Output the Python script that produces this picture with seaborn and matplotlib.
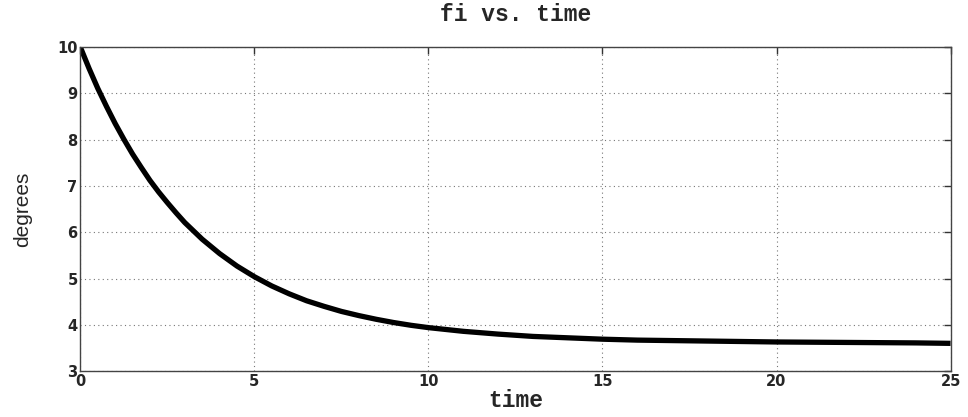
import numpy as np
import pandas as pd
import seaborn as sns
import matplotlib
matplotlib.use("Agg")
import matplotlib.pyplot as plt

# values
time = [0, 0.25, 0.5, 0.75, 1, 1.25, 1.5, 1.75, 2, 2.25, 2.5, 2.75, 3, 3.5,
        4, 4.5, 5, 5.5, 6, 6.5, 7, 7.5, 8, 8.5, 9, 9.5, 10,
        11, 12, 13, 14, 15, 16, 17, 18, 19, 20, 22, 24, 25]
fi = [10.00, 9.54, 9.11, 8.72, 8.35, 8.01, 7.69, 7.40, 7.12, 6.87, 6.64, 6.42,
      6.21, 5.85, 5.54, 5.27, 5.04, 4.84, 4.67, 4.52, 4.40, 4.29, 4.20, 4.12,
      4.05, 3.99, 3.94, 3.86, 3.80, 3.75, 3.72, 3.69, 3.67, 3.66, 3.65, 3.64,
      3.63, 3.62, 3.61, 3.60]
xticks = [0, 5, 10, 15, 20, 25]
yticks = [3, 4, 5, 6, 7, 8, 9, 10]

df = pd.DataFrame({"time": time, "fi": fi})

sns.set_style("white")
fig = plt.figure(figsize=(9.68, 4.17), dpi=100)
ax = fig.add_axes([0.083, 0.110, 0.899, 0.777])

line_kws = dict(solid_joinstyle="round", solid_capstyle="butt")
sns.lineplot(data=df, x="time", y="fi", color="black", linewidth=3.8, ax=ax,
             **line_kws)

ax.set_xlim(0, 25)
ax.set_ylim(3, 10)
ax.set_xticks(xticks)
ax.set_yticks(yticks)
ax.grid(True, color="#777777", linestyle=(0, (1, 3)), linewidth=0.8)
ax.tick_params(direction="in", length=5, width=1, color="#333333",
               top=True, right=True, labelsize=10.5, pad=2)
for lab in ax.get_xticklabels() + ax.get_yticklabels():
    lab.set_fontweight("bold")
    lab.set_family("DejaVu Sans")
for s in ax.spines.values():
    s.set_color("#444444")
    s.set_linewidth(1)

mono = ["Liberation Mono", "DejaVu Sans Mono"]
ax.set_title("fi vs. time", family=mono, fontsize=16.5, fontweight="bold", pad=19)
ax.set_xlabel("time", family=mono, fontsize=16.5, fontweight="bold", labelpad=0)
ax.set_ylabel("degrees", family=["Liberation Sans Narrow", "Liberation Sans"],
              fontsize=15, labelpad=18)

fig.savefig("out.png", dpi=100)
